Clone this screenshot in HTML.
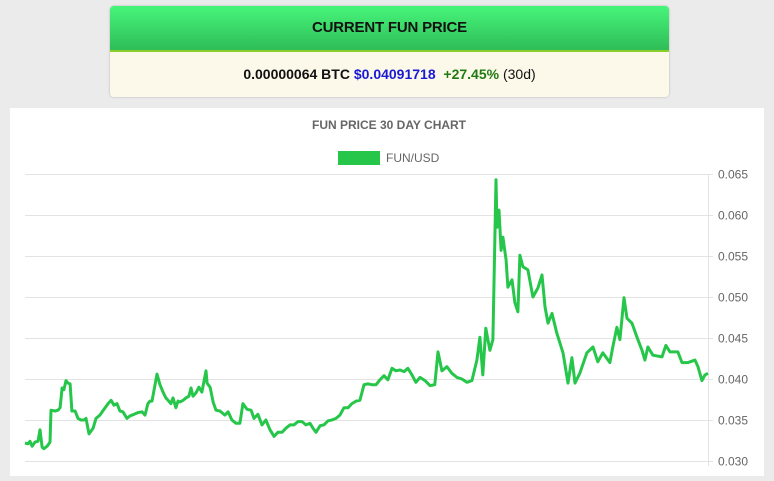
<!DOCTYPE html>
<html><head><meta charset="utf-8"><style>
body{margin:0;width:774px;height:481px;background:#ebebeb;font-family:"Liberation Sans",sans-serif;position:relative;overflow:hidden}
#card{position:absolute;left:110px;top:6px;width:559px;height:91px;border-radius:4px;overflow:hidden;box-shadow:0 0 2px rgba(0,0,0,.25)}
#head{height:44px;background:linear-gradient(#47f57a,#2fbd58);border-bottom:2px solid #8ccf2a;text-align:center;line-height:44px;font-weight:bold;font-size:15px;color:#111;letter-spacing:-.2px}
#body{height:45px;background:#fdf9ea;text-align:center;line-height:45px;font-size:14px;font-weight:bold;color:#111}
#panel{position:absolute;left:10px;top:108px;width:754px;height:368px;background:#fff}
</style></head><body>
<div id="card">
<div id="head">CURRENT FUN PRICE</div>
<div id="body"><span>0.00000064 BTC</span> <span style="color:#1a1ad6">$0.04091718</span> &nbsp;<span style="color:#1f7a12">+27.45%</span> <span style="font-weight:normal">(30d)</span></div>
</div>
<div id="panel"></div>
<svg id="chart" width="774" height="481" style="position:absolute;left:0;top:0">
<text x="389" y="129" text-anchor="middle" font-size="12" font-weight="bold" fill="#666" font-family="Liberation Sans, sans-serif">FUN PRICE 30 DAY CHART</text>
<rect x="338" y="151" width="42" height="14" fill="#26c64a"/>
<text x="386" y="162" font-size="12" fill="#666" font-family="Liberation Sans, sans-serif">FUN/USD</text>
<g id="grid"></g><g id="ticks"></g><path id="line" fill="none" stroke="#26c64a" stroke-width="3" stroke-linejoin="round"/>
</svg>
<script>
const days=[0,0.13,0.22,0.31,0.44,0.57,0.66,0.75,0.83,0.97,1.10,1.14,1.32,1.45,1.54,1.63,1.71,1.80,1.89,1.98,2.06,2.20,2.33,2.46,2.59,2.68,2.81,2.99,3.12,3.29,3.47,3.65,3.78,3.91,4.04,4.17,4.30,4.48,4.61,4.79,4.96,5.14,5.27,5.40,5.49,5.58,5.80,5.93,6.06,6.19,6.28,6.41,6.50,6.63,6.72,6.81,6.94,7.07,7.20,7.29,7.38,7.51,7.64,7.77,7.95,8.0,8.13,8.26,8.39,8.56,8.78,8.92,9.09,9.27,9.44,9.57,9.75,9.93,10.06,10.23,10.41,10.58,10.76,10.94,11.11,11.29,11.46,11.64,11.81,11.99,12.17,12.34,12.52,12.65,12.78,12.96,13.13,13.31,13.48,13.66,13.83,14.01,14.19,14.36,14.54,14.71,14.89,15.06,15.24,15.42,15.59,15.77,15.94,16.12,16.29,16.47,16.65,16.82,17.0,17.17,17.35,17.57,17.79,18.0,18.14,18.31,18.53,18.75,18.97,19.19,19.41,19.63,19.85,19.98,20.11,20.24,20.42,20.55,20.69,20.73,20.82,20.91,20.99,21.13,21.21,21.39,21.52,21.65,21.74,21.87,22.09,22.31,22.53,22.71,22.84,22.97,23.15,23.36,23.63,23.85,24.02,24.16,24.37,24.68,24.95,25.16,25.38,25.69,25.82,26.0,26.13,26.31,26.44,26.66,26.88,27.1,27.23,27.36,27.58,27.98,28.15,28.33,28.68,28.86,29.12,29.43,29.56,29.73,29.87,30.0];
const pricesMilli=[32.2,32.1,32.4,31.8,32.3,32.4,33.8,31.7,31.5,31.8,32.3,36.2,36.1,36.2,36.5,38.9,38.7,39.8,39.5,39.4,36.1,36.1,35.2,35.0,35.0,35.2,33.3,34.0,35.2,35.6,36.3,37.0,37.4,36.8,37.0,36.1,36.0,35.2,35.5,35.7,35.9,36.0,35.6,37.0,37.3,37.3,40.6,39.3,38.4,37.7,37.4,37.0,37.7,36.5,37.3,37.2,37.4,37.7,37.9,38.9,37.9,38.3,39.0,38.4,41.0,39.5,39.0,37.2,36.2,36.1,35.6,36.0,35.0,34.6,34.6,37.0,36.3,36.2,35.2,35.7,34.4,35.0,33.8,33.0,33.5,33.5,34.0,34.4,34.4,34.8,34.8,34.4,34.6,34.0,33.5,34.3,34.4,34.9,35.0,35.2,35.6,36.5,36.5,37.0,37.3,37.4,39.3,39.4,39.3,39.3,39.9,40.4,39.9,41.3,41.0,41.1,40.9,41.3,40.5,39.6,40.2,39.8,39.2,39.3,43.3,41.0,41.5,40.7,40.2,40.0,39.6,39.8,42.3,45.1,40.5,46.2,43.5,44.8,64.3,58.5,60.6,55.7,57.3,54.5,51.2,52.1,49.3,48.2,55.1,53.7,53.3,50.0,51.1,52.7,48.8,46.8,48.0,45.6,43.2,39.5,42.6,39.5,40.7,43.2,43.9,42.1,43.2,42.0,43.9,46.3,44.8,49.9,47.4,46.8,45.1,43.5,42.3,43.9,42.9,42.7,44.1,43.3,43.3,42.0,42.0,42.3,41.5,39.8,40.5,40.7];
const yTicks=[0.030,0.035,0.040,0.045,0.050,0.055,0.060,0.065];
const X0=25,X1=708,Y0=461,Y1=174,VMIN=0.030,VMAX=0.065;
const xs=t=>X0+t/30*(X1-X0);
const ys=v=>Y0-(v-VMIN)/(VMAX-VMIN)*(Y0-Y1);
const NS='http://www.w3.org/2000/svg';
const grid=document.getElementById('grid'),ticks=document.getElementById('ticks');
yTicks.forEach(v=>{
 const y=Math.round(ys(v))+0.5;
 const l=document.createElementNS(NS,'line');
 l.setAttribute('x1',X0);l.setAttribute('x2',X1+5);l.setAttribute('y1',y);l.setAttribute('y2',y);
 l.setAttribute('stroke','#e3e3e3');l.setAttribute('stroke-width','1');
 
 
 grid.appendChild(l);
 const t=document.createElementNS(NS,'text');
 t.setAttribute('x',718);t.setAttribute('y',y+4);t.setAttribute('font-size','12');t.setAttribute('fill','#666');
 t.setAttribute('font-family','Liberation Sans, sans-serif');
 t.textContent=v.toFixed(3);
 
 
 ticks.appendChild(t);
});
const ax=document.createElementNS(NS,'line');
ax.setAttribute('x1',X1+0.5);ax.setAttribute('x2',X1+0.5);ax.setAttribute('y1',Y1);ax.setAttribute('y2',Y0+5);ax.setAttribute('stroke','#e3e3e3');


grid.appendChild(ax);
document.getElementById('line').setAttribute('d',days.map((t,i)=>(i?'L':'M')+xs(t).toFixed(1)+','+ys(pricesMilli[i]/1000).toFixed(1)).join(''));
</script>
</body></html>
